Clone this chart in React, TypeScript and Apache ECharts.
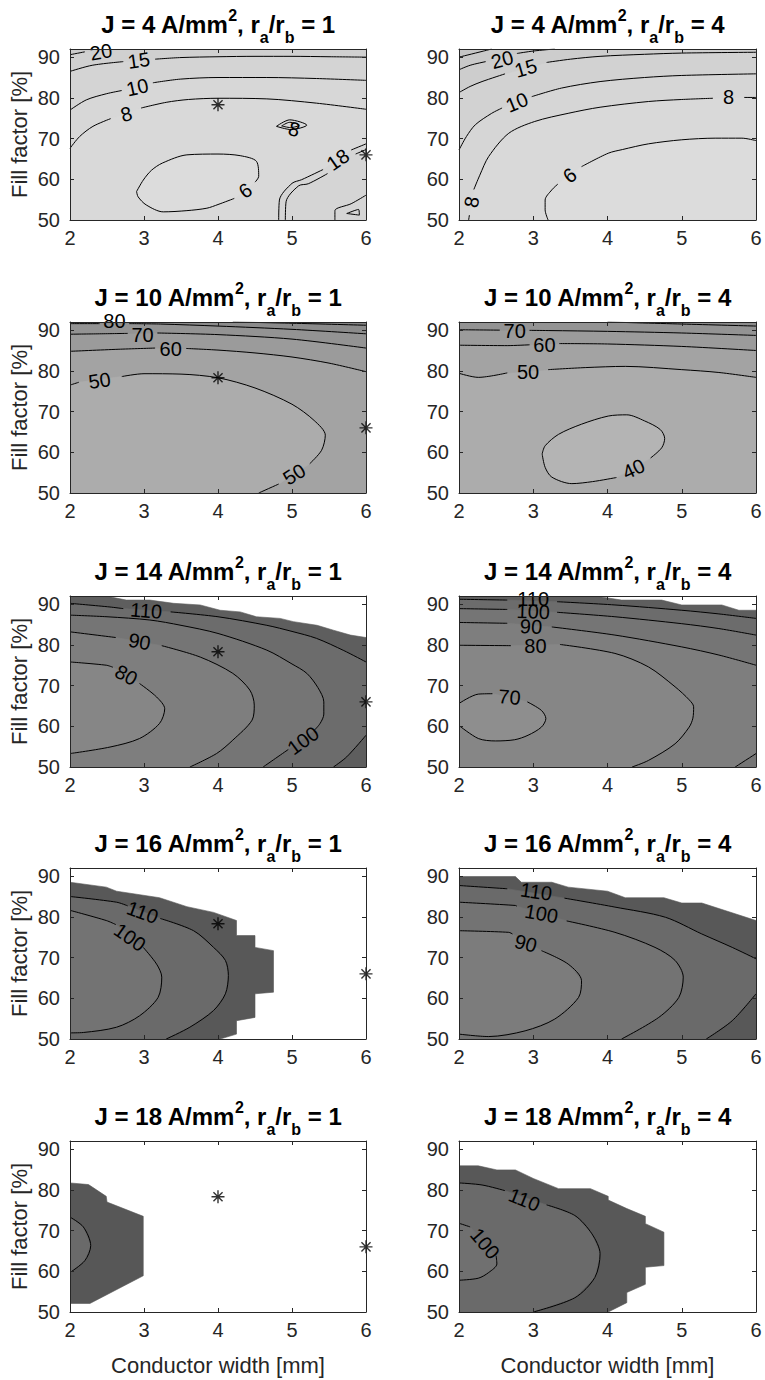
import React, { useEffect, useRef } from 'react';
import * as echarts from 'echarts';

type P = [number, number];
type Q = P | null;

// ---------- axes / labels ----------
const currentDensities = [4, 10, 14, 16, 18];
const radiusRatios = [1, 4];
const xTicks = [2, 3, 4, 5, 6];
const yTicks = [50, 60, 70, 80, 90];
const xName = 'Conductor width [mm]';
const yName = 'Fill factor [%]';
const optimumPoints: P[] = [[4, 78.3], [6, 66]];

// ---------- J = 4, ra/rb = 1 ----------
const a20: Q[] = [[2, 90.6], [2.2, 91.3], null, [2.62, 92]];
const a15: Q[] = [[2, 86.5], [2.3, 88.0], [2.72, 88.9], null, [3.15, 89.5], [3.5, 89.9], [4, 90.1], [4.5, 90.2], [5, 90.2], [5.5, 90.1], [6, 90.0]];
const a10: Q[] = [[2, 77.0], [2.22, 79.5], [2.49, 81], [2.7, 81.8], null, [3.12, 83.7], [3.49, 84.6], [4, 85.0], [4.66, 85.0], [5.33, 84.75], [6, 84.3]];
const a8: Q[] = [[2, 67.6], [2.13, 70.5], [2.31, 73.0], [2.55, 74.9], null, [2.96, 77.5], [3.3, 78.9], [3.6, 79.6], [4, 79.9], [4.66, 79.75], [5.33, 78.7], [6, 77.2]];
const a6: Q[] = [[2.9, 57.0], [2.99, 59.8], [3.1, 62.2], [3.25, 64.0], [3.58, 66.0], [4, 66.2], [4.3, 65.8], [4.52, 64.4], [4.55, 60.7], [4.5, 59.3], null, [4.22, 55.3], [4.0, 53.8], [3.85, 52.9], [3.58, 52.3], [3.26, 52.0], [3.03, 53.7], [2.92, 55.7], [2.9, 57.0]];
const a8s: Q[] = [[4.79, 73.0], [4.97, 74.6], [5.2, 73.3], [4.99, 72.2], [4.79, 73.0]];
const a8t: Q[] = [[4.86, 73.1], [4.97, 74.0], [5.1, 73.3], [4.98, 72.7], [4.86, 73.1]];
const a18a: Q[] = [[4.82, 50], [4.83, 54.9], [5.0, 59.0], [5.13, 59.9], [5.42, 62.4], null, [5.8, 67.2], [6, 68.7]];
const a18b: Q[] = [[4.91, 50], [4.92, 54.5], [5.09, 58.4], [5.22, 58.9], [5.48, 61.4], null, [5.86, 66.2], [6, 67.3]];
const aBr: Q[] = [[5.58, 50], [5.58, 52.3], [5.8, 54.0], [6, 56.1]];
const aTri: Q[] = [[5.74, 51.6], [5.9, 52.6], [5.91, 51.2], [5.74, 51.6]];
const aLabels: [number, number, string, number][] = [[2.42, 91.3, '20', 10], [2.93, 89.2, '15', 8], [2.91, 82.6, '10', 12], [2.76, 76.0, '8', 15], [4.37, 57.2, '6', 35], [5.03, 72.3, '8', -15], [5.62, 64.8, '18', 35]];

// ---------- J = 4, ra/rb = 4 ----------
const b25: Q[] = [[2, 90], [2.31, 91.4], [2.44, 92]];
const b20: Q[] = [[2, 86.9], [2.15, 88.0], [2.36, 88.9], null, [2.78, 90.9], [3.0, 91.5], [3.29, 92]];
const b15: Q[] = [[2, 81.3], [2.15, 82.8], [2.31, 84], [2.62, 85.9], null, [3.18, 88.7], [3.5, 89.5], [3.9, 90.2], [4.5, 90.7], [5, 91], [6, 91.2]];
const b10: Q[] = [[2, 67.2], [2.1, 70.5], [2.22, 73.4], [2.44, 76.2], [2.58, 77.5], null, [2.98, 80.3], [3.38, 82.4], [3.9, 84], [4.5, 85.0], [5, 85.5], [6, 85.9]];
const b8: Q[] = [[2.13, 50], [2.14, 51.2], null, [2.2, 57.5], [2.28, 61], [2.4, 65.6], [2.67, 71.3], [3.02, 74.2], [3.47, 76.2], [3.9, 77.7], [4.55, 79.1], [5.0, 79.6], [5.42, 79.9], null, [5.84, 80.1], [6, 80.1]];
const b6: Q[] = [[3.2, 50], [3.16, 52.5], [3.16, 54.9], [3.25, 57.4], [3.33, 58.8], null, [3.65, 63.1], [4.01, 66.4], [4.2, 67.3], [4.55, 68.7], [5, 69.7], [5.45, 70.1], [5.81, 70.1], [6, 69.5]];
const bLabels: [number, number, string, number][] = [[2.58, 89.4, '20', 15], [2.9, 87.3, '15', 16], [2.78, 78.9, '10', 22], [2.17, 54.4, '8', 80], [5.63, 80.1, '8', 0], [3.49, 61.0, '6', 37]];

// ---------- J = 10, ra/rb = 1 ----------
const c90: Q[] = [[4.2, 92], [5, 91.7], [6, 91.2]];
const c80: Q[] = [[2, 91.6], [2.4, 91.6], null, [2.8, 91.6], [3.22, 91.5], [4, 91.0], [5, 90.2], [6, 89.1]];
const c70: Q[] = [[2, 89.0], [2.4, 89.1], [2.78, 89.2], null, [3.18, 89.3], [4, 88.9], [5, 87.8], [6, 85.6]];
const c60: Q[] = [[2, 84.8], [2.65, 85.3], [3.15, 85.6], null, [3.57, 85.5], [4, 85.1], [4.5, 84.4], [5, 83.4], [5.5, 81.9], [6, 79.8]];
const c50: Q[] = [[2, 76.5], [2.12, 77.2], null, [2.7, 78.6], [3, 79.3], [3.5, 79.2], [4, 78.3], [4.5, 75.8], [5, 71.8], [5.3, 67.8], [5.45, 64.2], [5.4, 60.5], [5.24, 57.2], null, [4.82, 52.2], [4.55, 50]];
const cLabels: [number, number, string, number][] = [[2.6, 92.2, '80', 0], [2.98, 88.9, '70', 0], [3.36, 85.3, '60', 0], [2.4, 77.6, '50', 8], [5.03, 54.6, '50', 32]];

// ---------- J = 10, ra/rb = 4 ----------
const d80: Q[] = [[4, 92], [5, 91.5], [6, 91.0]];
const d70: Q[] = [[2, 90.1], [2.55, 90.0], null, [2.95, 89.95], [3.2, 89.9], [4, 89.7], [5, 89.3], [6, 88.7]];
const d60: Q[] = [[2, 86.3], [2.65, 86.2], [2.95, 86.4], null, [3.35, 86.7], [4, 86.6], [5, 86], [6, 85]];
const d50: Q[] = [[2, 79.4], [2.26, 78.4], [2.65, 79.5], null, [3.2, 80.3], [3.7, 80.8], [4.24, 81.1], [5, 80.3], [5.5, 79.6], [6, 78.4]];
const d40: Q[] = [[3.12, 59.6], [3.16, 61.6], [3.34, 64.4], [3.65, 66.9], [4.01, 68.9], [4.26, 69.2], [4.5, 67.7], [4.71, 65.6], [4.77, 63.4], [4.73, 61.1], [4.58, 58.6], null, [4.12, 53.8], [3.8, 52.8], [3.52, 52.3], [3.25, 53.9], [3.16, 56.3], [3.12, 59.6]];
const dLabels: [number, number, string, number][] = [[2.75, 89.9, '70', 0], [3.15, 86.4, '60', 0], [2.93, 79.6, '50', 0], [4.35, 55.9, '40', 25]];

// ---------- J = 14, ra/rb = 1 ----------
const eRegion: Q[] = [[2, 50], [2, 92], [2.5, 92], [2.54, 91.8], [2.76, 91.0], [3.08, 91.0], [3.4, 90.2], [3.76, 89.8], [4.03, 88.5], [4.3, 88.1], [4.52, 86.9], [4.84, 86.5], [5.02, 85.7], [5.34, 84.8], [5.56, 83.6], [5.79, 82.4], [6, 81.8], [6, 50]];
const e110: Q[] = [[2, 90.2], [2.54, 89.3], [2.72, 88.9], null, [3.36, 88.1], [4, 86.9], [4.66, 84.8], [5.0, 83.3], [5.33, 81.6], [5.7, 78.6], [6, 75.8]];
const e110b: Q[] = [[5.56, 50], [5.74, 52.5], [6, 57.8]];
const e100: Q[] = [[2, 87.3], [2.5, 86.9], [3.08, 86.1], [3.5, 84.8], [4, 82.8], [4.66, 78.7], [5.0, 75.3], [5.2, 73.0], [5.35, 69.5], [5.43, 66], [5.43, 63], [5.38, 60.7], [5.3, 59.0], null, [4.95, 54.3], [4.61, 50]];
const e90: Q[] = [[2, 83.2], [2.62, 81.8], null, [3.24, 79.8], [3.76, 77.0], [4.2, 73.0], [4.43, 68.9], [4.49, 65.2], [4.46, 61.5], [4.2, 56.6], [3.98, 53.3], [3.62, 50]];
const e80: Q[] = [[2, 75.8], [2.49, 75], [2.58, 74.5], null, [2.94, 70.5], [3.17, 67.2], [3.28, 64.3], [3.21, 60.7], [2.94, 57.0], [2.54, 54.9], [2, 53.3]];
const eLabels: [number, number, string, number][] = [[3.03, 88.4, '110', -4], [5.15, 56.5, '100', 36], [2.94, 80.8, '90', -10], [2.76, 72.6, '80', -28]];

// ---------- J = 14, ra/rb = 4 ----------
const fRegion: Q[] = [[2, 50], [2, 92], [3.83, 92], [4.19, 91], [4.73, 91], [5, 89.8], [5.54, 89.8], [5.77, 88.5], [6, 88.5], [6, 50]];
const f110: Q[] = [[2, 91.2], [2.65, 91.0], null, [3.32, 90.6], [4.1, 89.8], [5, 88.5], [5.5, 87.6], [6, 86.5]];
const f100: Q[] = [[2, 88.9], [2.65, 88.7], null, [3.32, 88.0], [4.1, 86.9], [5, 85.2], [5.5, 84.0], [6, 82.4]];
const f90: Q[] = [[2, 85.5], [2.65, 85.3], null, [3.25, 84.4], [4.1, 82.4], [5, 79.5], [5.5, 77.5], [6, 75]];
const f90b: Q[] = [[5.72, 50], [6, 53.3]];
const f80: Q[] = [[2, 79.9], [2.7, 79.8], null, [3.36, 80.1], [4.1, 77.9], [4.55, 74.6], [4.91, 69.7], [5.1, 66.5], [5.16, 64.8], [5.15, 62], [5.1, 59.8], [4.91, 55.7], [4.55, 51.6], [4.33, 50]];
const f70: Q[] = [[2, 65.6], [2.26, 67.9], [2.45, 68], null, [2.92, 66], [3.11, 63.9], [3.17, 61.9], [3.11, 59.8], [2.93, 57.8], [2.75, 56.7], [2.49, 56.4], [2.26, 57], [2, 60.2]];
const fLabels: [number, number, string, number][] = [[3.0, 91.3, '110', 0], [3.0, 88.2, '100', -2], [2.97, 84.5, '90', -3], [3.03, 79.6, '80', 0], [2.68, 67.2, '70', -5]];

// ---------- J = 16, ra/rb = 1 ----------
const gRegion: Q[] = [[2, 50], [2, 88.5], [2.49, 87.3], [2.63, 86.3], [3.21, 84.7], [3.58, 82.5], [3.94, 81.1], [4.25, 79.1], [4.25, 75.4], [4.5, 75.4], [4.5, 72.5], [4.75, 71.7], [4.75, 61.5], [4.5, 61.1], [4.5, 55.3], [4.25, 54.5], [4.25, 51.2], [4.03, 50]];
const g110: Q[] = [[2, 85], [2.63, 83.6], [2.78, 82.7], null, [3.22, 79.6], [3.67, 76.6], [3.94, 72.5], [4.1, 69.3], [4.14, 65.6], [4.1, 61.1], [3.94, 57], [3.62, 52.9], [3.3, 50]];
const g100: Q[] = [[2, 81.6], [2.49, 79.1], [2.62, 78.1], null, [2.99, 72.5], [3.17, 68.4], [3.24, 65.2], [3.19, 60.2], [2.94, 55.7], [2.63, 52.9], [2.18, 51.6], [2, 51.5]];
const gLabels: [number, number, string, number][] = [[2.98, 81.1, '110', -20], [2.81, 75.0, '100', -35]];

// ---------- J = 16, ra/rb = 4 ----------
const hRegion: Q[] = [[2, 50], [2, 89.9], [2.76, 89.9], [2.84, 88.5], [3.25, 88.5], [3.47, 87.3], [4.0, 86.3], [4.24, 84.7], [4.76, 84.7], [5.0, 83.4], [5.27, 83.4], [6, 79.1], [6, 50]];
const h110: Q[] = [[2, 87.7], [2.65, 86.9], null, [3.42, 84.6], [4.1, 82.4], [4.78, 79.9], [5.27, 75.8], [5.68, 72.5], [6, 69.7]];
const h110b: Q[] = [[5.33, 50], [5.68, 54.5], [6, 61.1]];
const h100: Q[] = [[2, 83.6], [2.76, 82.8], [2.78, 82.6], null, [3.45, 79.0], [4.1, 76.2], [4.64, 72.5], [4.91, 69.3], [5.02, 65.2], [4.96, 60.2], [4.69, 55.3], [4.19, 50]];
const h90: Q[] = [[2, 76.6], [2.67, 76.2], [2.72, 75.8], null, [3.11, 71.7], [3.47, 68.4], [3.65, 64.3], [3.61, 60.2], [3.29, 54.9], [2.89, 52], [2.4, 50.6], [2, 51.2]];
const hLabels: [number, number, string, number][] = [[3.04, 86.2, '110', -8], [3.11, 80.8, '100', -10], [2.9, 73.5, '90', -15]];

// ---------- J = 18, ra/rb = 1 ----------
const iRegion: Q[] = [[2, 52.1], [2, 81.7], [2.25, 81.3], [2.49, 78.4], [2.5, 77.0], [2.99, 73.5], [2.99, 58.9], [2.27, 52.1]];
const i100: Q[] = [[2, 73.3], [2.18, 70.9], [2.28, 66.3], [2.2, 62.6], [2, 59.7]];

// ---------- J = 18, ra/rb = 4 ----------
const jRegion: Q[] = [[2, 50], [2, 85.9], [2.26, 85.9], [2.51, 84.9], [2.76, 84.9], [3.0, 82.8], [3.34, 80.3], [3.77, 80.3], [4.01, 78.4], [4.01, 77.5], [4.26, 75.4], [4.51, 73.5], [4.51, 71.7], [4.76, 69.6], [4.76, 61.4], [4.51, 61], [4.51, 56.8], [4.26, 54.8], [4.26, 52.3], [4.01, 50]];
const j110: Q[] = [[2, 81.7], [2.31, 81.2], [2.62, 79.8], null, [3.18, 76.3], [3.56, 73.7], [3.79, 69.2], [3.9, 64.3], [3.83, 58.5], [3.56, 53.5], [3.0, 50]];
const j100: Q[] = [[2, 71.8], [2.15, 70.9], null, [2.5, 63.8], [2.51, 61.8], [2.4, 59.7], [2.26, 58.3], [2, 57.8]];
const jLabels: [number, number, string, number][] = [[2.88, 77.6, '110', -22], [2.35, 66.8, '100', -50]];

// ---------- helpers ----------
const FULL: Q[] = [[2, 50], [2, 92], [6, 92], [6, 50]];
const poly = (...parts: Q[][]): P[] => parts.flat().filter((p) => p) as P[];
const rev = (a: Q[]) => a.slice().reverse();

interface Panel { fills: { c: string; pts: P[] }[]; lines: Q[][]; labels: [number, number, string, number][]; stars: boolean; }

const panels: Panel[] = [
  {
    fills: [
      { c: '#d9d9d9', pts: poly(FULL) },
      { c: '#d7d7d7', pts: poly(a8, [[6, 92], [2, 92]]) },
      { c: '#d4d4d4', pts: poly(a10, [[6, 92], [2, 92]]) },
      { c: '#d0d0d0', pts: poly(a15, [[6, 92], [2, 92]]) },
      { c: '#cbcbcb', pts: poly(a20, [[2, 92]]) },
      { c: '#dcdcdc', pts: poly(a6) },
      { c: '#d5d5d5', pts: poly(a18a, [[6, 50]]) },
    ],
    lines: [a20, a15, a10, a8, a6, a8s, a8t, a18a, a18b, aBr, aTri], labels: aLabels, stars: true,
  },
  {
    fills: [
      { c: '#d9d9d9', pts: poly(FULL) },
      { c: '#dcdcdc', pts: poly(b6, [[6, 50]]) },
      { c: '#d6d6d6', pts: poly(b8, [[6, 92], [2, 92], [2, 50]]) },
      { c: '#d2d2d2', pts: poly(b10, [[6, 92], [2, 92]]) },
      { c: '#cdcdcd', pts: poly(b15, [[6, 92], [2, 92]]) },
      { c: '#c9c9c9', pts: poly(b20, [[2, 92]]) },
      { c: '#c5c5c5', pts: poly(b25, [[2, 92]]) },
    ],
    lines: [b25, b20, b15, b10, b8, b6], labels: bLabels, stars: false,
  },
  {
    fills: [
      { c: '#a3a3a3', pts: poly(FULL) },
      { c: '#9b9b9b', pts: poly(c60, [[6, 92], [2, 92]]) },
      { c: '#939393', pts: poly(c70, [[6, 92], [2, 92]]) },
      { c: '#8b8b8b', pts: poly(c80, [[6, 92], [2, 92]]) },
      { c: '#848484', pts: poly(c90, [[6, 92]]) },
      { c: '#acacac', pts: poly(c50, [[2, 50]]) },
    ],
    lines: [c90, c80, c70, c60, c50], labels: cLabels, stars: true,
  },
  {
    fills: [
      { c: '#acacac', pts: poly(FULL) },
      { c: '#a3a3a3', pts: poly(d50, [[6, 92], [2, 92]]) },
      { c: '#9b9b9b', pts: poly(d60, [[6, 92], [2, 92]]) },
      { c: '#939393', pts: poly(d70, [[6, 92], [2, 92]]) },
      { c: '#8b8b8b', pts: poly(d80, [[6, 92]]) },
      { c: '#b4b4b4', pts: poly(d40) },
    ],
    lines: [d80, d70, d60, d50, d40], labels: dLabels, stars: false,
  },
  {
    fills: [
      { c: '#5e5e5e', pts: poly(eRegion) },
      { c: '#6c6c6c', pts: poly(e110, rev(e110b), [[2, 50]]) },
      { c: '#757575', pts: poly(e100, [[2, 50]]) },
      { c: '#7e7e7e', pts: poly(e90, [[2, 50]]) },
      { c: '#868686', pts: poly(e80) },
    ],
    lines: [e110, e110b, e100, e90, e80], labels: eLabels, stars: true,
  },
  {
    fills: [
      { c: '#5e5e5e', pts: poly(fRegion) },
      { c: '#6c6c6c', pts: poly(f110, [[6, 50], [2, 50]]) },
      { c: '#757575', pts: poly(f100, [[6, 50], [2, 50]]) },
      { c: '#7e7e7e', pts: poly(f90, rev(f90b), [[2, 50]]) },
      { c: '#868686', pts: poly(f80, [[2, 50]]) },
      { c: '#8e8e8e', pts: poly(f70) },
    ],
    lines: [f110, f100, f90, f90b, f80, f70], labels: fLabels, stars: false,
  },
  {
    fills: [
      { c: '#585858', pts: poly(gRegion) },
      { c: '#6a6a6a', pts: poly(g110, [[2, 50]]) },
      { c: '#737373', pts: poly(g100) },
    ],
    lines: [g110, g100], labels: gLabels, stars: true,
  },
  {
    fills: [
      { c: '#585858', pts: poly(hRegion) },
      { c: '#6a6a6a', pts: poly(h110, rev(h110b), [[2, 50]]) },
      { c: '#737373', pts: poly(h100, [[2, 50]]) },
      { c: '#7c7c7c', pts: poly(h90) },
    ],
    lines: [h110, h110b, h100, h90], labels: hLabels, stars: false,
  },
  {
    fills: [
      { c: '#575757', pts: poly(iRegion) },
      { c: '#6a6a6a', pts: poly(i100) },
    ],
    lines: [i100], labels: [], stars: true,
  },
  {
    fills: [
      { c: '#585858', pts: poly(jRegion) },
      { c: '#6a6a6a', pts: poly(j110, [[2, 50]]) },
      { c: '#707070', pts: poly(j100) },
    ],
    lines: [j110, j100], labels: jLabels, stars: false,
  },
];

// ---------- layout ----------
const FONT = '"Liberation Sans", Arial, Helvetica, sans-serif';
const AX = '#262626';
const LEFTS = [70, 459];
const WIDTHS = [296, 297];
const TOPS = [49, 322, 596, 868, 1141];
const H = 171;
const STAR = 'path://M5,0L5,10M0,5L10,5M1.5,1.5L8.5,8.5M1.5,8.5L8.5,1.5';

function buildOption(): any {
  const grid: any[] = [];
  const xAxis: any[] = [];
  const yAxis: any[] = [];
  const series: any[] = [];
  const graphic: any[] = [];

  panels.forEach((p, i) => {
    const row = Math.floor(i / 2);
    const col = i % 2;
    grid.push({ left: LEFTS[col], top: TOPS[row], width: WIDTHS[col], height: H, containLabel: false });
    const tick = { show: true, inside: true, length: 4, lineStyle: { color: AX, width: 1 } };
    const line = { show: true, onZero: false, lineStyle: { color: AX, width: 1 } };
    xAxis.push({
      gridIndex: i, type: 'value', position: 'bottom', min: xTicks[0], max: xTicks[xTicks.length - 1], interval: 1, z: 10,
      axisLine: line, axisTick: tick, splitLine: { show: false },
      axisLabel: { fontSize: 20, color: AX, fontFamily: FONT, margin: 8 },
      name: row === 4 ? xName : '', nameLocation: 'middle', nameGap: 42,
      nameTextStyle: { fontSize: 22, color: AX, fontFamily: FONT },
    });
    xAxis.push({
      gridIndex: i, type: 'value', position: 'top', min: xTicks[0], max: xTicks[xTicks.length - 1], interval: 1, z: 10,
      axisLine: line, axisTick: tick, splitLine: { show: false }, axisLabel: { show: false },
    });
    yAxis.push({
      gridIndex: i, type: 'value', position: 'left', min: yTicks[0], max: 92, interval: 10, z: 10,
      axisLine: line, axisTick: tick, splitLine: { show: false },
      axisLabel: {
        fontSize: 20, color: AX, fontFamily: FONT, margin: 10, showMaxLabel: false,
        formatter: (v: number) => (yTicks.indexOf(v) >= 0 ? String(v) : ''),
      },
      name: col === 0 ? yName : '', nameLocation: 'middle', nameGap: 40,
      nameTextStyle: { fontSize: 22, color: AX, fontFamily: FONT },
    });
    yAxis.push({
      gridIndex: i, type: 'value', position: 'right', min: yTicks[0], max: 92, interval: 10, z: 10,
      axisLine: line, axisTick: tick, splitLine: { show: false }, axisLabel: { show: false },
    });

    const xi = 2 * i;
    const yi = 2 * i;
    const fills = p.fills;
    series.push({
      type: 'custom', xAxisIndex: xi, yAxisIndex: yi, data: [[4, 70]], silent: true, z: 1, clip: true,
      renderItem: (_params: any, api: any) => ({
        type: 'group',
        children: fills.map((f) => ({
          type: 'polygon',
          shape: { points: f.pts.map((pt) => api.coord(pt)) },
          style: { fill: f.c, stroke: f.c, lineWidth: 0.6 },
        })),
      }),
    });
    p.lines.forEach((ln) => {
      series.push({
        type: 'line', xAxisIndex: xi, yAxisIndex: yi, silent: true, z: 3, clip: true,
        data: ln.map((pt) => (pt ? pt : ['-', '-'])),
        symbol: 'none', smooth: 0.3, connectNulls: false,
        lineStyle: { color: '#000', width: 1 },
      });
    });
    const labels = p.labels;
    if (labels.length) {
      series.push({
        type: 'custom', xAxisIndex: xi, yAxisIndex: yi, silent: true, z: 4, clip: false,
        data: labels.map((l) => [l[0], l[1]]),
        renderItem: (params: any, api: any) => {
          const l = labels[params.dataIndex];
          const c = api.coord([l[0], l[1]]);
          return {
            type: 'text', x: c[0], y: c[1], rotation: (l[3] * Math.PI) / 180,
            style: { text: l[2], fontSize: 20, fontFamily: FONT, fill: '#000', align: 'center', verticalAlign: 'middle' },
          };
        },
      });
    }
    if (p.stars) {
      series.push({
        type: 'scatter', xAxisIndex: xi, yAxisIndex: yi, silent: true, z: 5, clip: false,
        data: optimumPoints, symbol: STAR, symbolSize: 13,
        itemStyle: { color: 'rgba(0,0,0,0)', borderColor: '#000', borderWidth: 1.4 },
      });
    }

    const J = currentDensities[row];
    const r = radiusRatios[col];
    const tokenBase = { fontFamily: FONT, fontWeight: 'bold', fill: '#000' };
    graphic.push({
      type: 'text', x: LEFTS[col] + WIDTHS[col] / 2, y: TOPS[row] - 25, z: 20,
      style: {
        text: `J = ${J} A/mm{sup|2}, r{sub|a}/r{sub|b} = ${r}`,
        fontSize: 24, fontWeight: 'bold', fontFamily: FONT, fill: '#000',
        lineHeight: 40, align: 'center', verticalAlign: 'middle',
        rich: {
          sup: { ...tokenBase, fontSize: 16, height: 22, verticalAlign: 'top' },
          sub: { ...tokenBase, fontSize: 16, height: 14, verticalAlign: 'bottom' },
        },
      },
    });
  });

  return { animation: false, backgroundColor: '#fff', grid, xAxis, yAxis, series, graphic };
}

export default function App() {
  const ref = useRef<HTMLDivElement>(null);
  useEffect(() => {
    const chart = echarts.init(ref.current!, null, { renderer: 'svg' });
    chart.setOption(buildOption());
    return () => chart.dispose();
  }, []);
  return <div ref={ref} style={{ position: 'absolute', left: 0, top: 0, width: 765, height: 1380, background: '#fff' }} />;
}
